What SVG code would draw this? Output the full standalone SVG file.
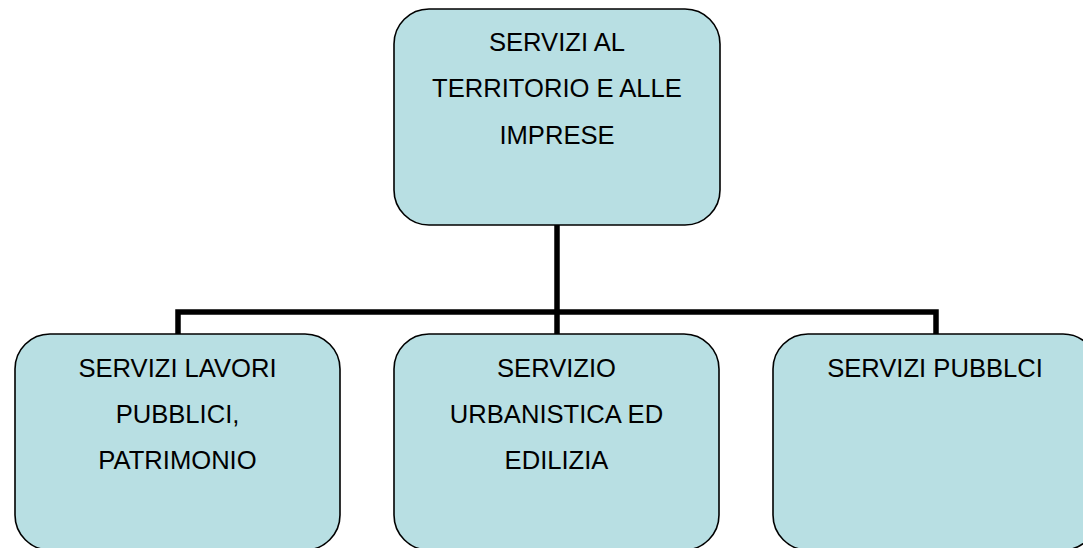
<svg xmlns="http://www.w3.org/2000/svg" width="1083" height="548" viewBox="0 0 1083 548">
  <style>
    .box { fill: #B8DFE3; stroke: #000000; stroke-width: 1.6; }
    .lbl { font-family: "Liberation Sans", Arial, sans-serif; font-size: 25.6px; fill: #000000; text-anchor: middle; }
    .conn { fill: none; stroke: #000000; stroke-width: 5.5; stroke-linejoin: miter; stroke-linecap: butt; }
  </style>
  <rect width="1083" height="548" fill="#ffffff"/>
  <g id="connectors">
    <path class="conn" d="M557 225 V334"/>
    <path class="conn" d="M178 334 V312 H936 V334"/>
  </g>
  <g id="node-top">
    <rect class="box" x="394" y="9" width="326" height="216" rx="35" ry="35"/>
    <text class="lbl" x="557" y="51">SERVIZI AL</text>
    <text class="lbl" x="557" y="97">TERRITORIO E ALLE</text>
    <text class="lbl" x="557" y="144">IMPRESE</text>
  </g>
  <g id="node-lavori">
    <rect class="box" x="15" y="334" width="325" height="216" rx="35" ry="35"/>
    <text class="lbl" x="177.5" y="377">SERVIZI LAVORI</text>
    <text class="lbl" x="177.5" y="423">PUBBLICI,</text>
    <text class="lbl" x="177.5" y="469">PATRIMONIO</text>
  </g>
  <g id="node-urbanistica">
    <rect class="box" x="394" y="334" width="325" height="216" rx="35" ry="35"/>
    <text class="lbl" x="556.5" y="377">SERVIZIO</text>
    <text class="lbl" x="556.5" y="423">URBANISTICA ED</text>
    <text class="lbl" x="556.5" y="469">EDILIZIA</text>
  </g>
  <g id="node-pubblici">
    <rect class="box" x="773" y="334" width="325" height="216" rx="35" ry="35"/>
    <text class="lbl" x="935" y="377">SERVIZI PUBBLCI</text>
  </g>
</svg>
